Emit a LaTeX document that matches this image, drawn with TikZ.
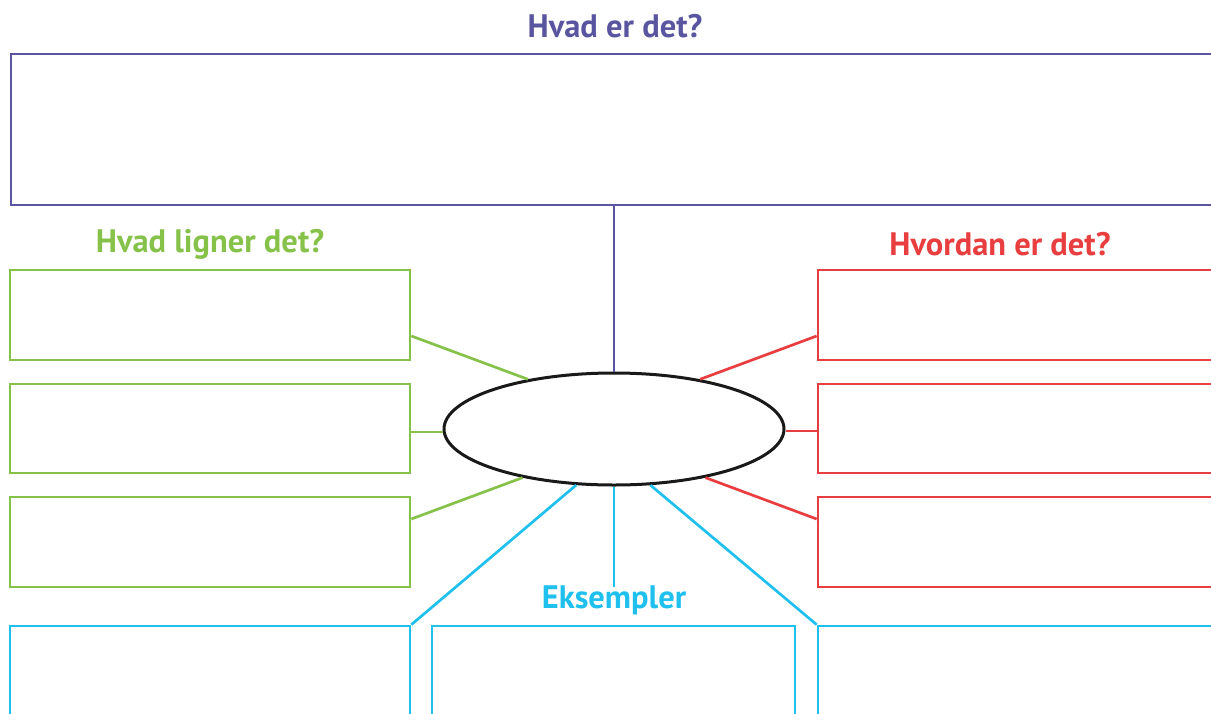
\documentclass[tikz,border=0pt]{standalone}
\usepackage{fontspec}
\usetikzlibrary{shapes.geometric}
\setmainfont{PT Sans}
\definecolor{cpurple}{HTML}{5A559F}
\definecolor{cgreen}{HTML}{86C24A}
\definecolor{cred}{HTML}{E83E3F}
\definecolor{ccyan}{HTML}{1FC0EE}
\begin{document}
\begin{tikzpicture}[x=1pt,y=-1pt,
  lbl/.style={font=\bfseries\fontsize{32.5}{36}\selectfont,inner sep=0pt},
  conn/.style={line width=2.7pt},
  bx/.style={line width=2.7pt,inner sep=0pt}]
\useasboundingbox (0,0) rectangle (1211,713);
\clip (0,0) rectangle (1211,713);
% title
\node[lbl,text=cpurple] (t1) at (615,26) {Hvad er det?};
\draw[cpurple,line width=2.7pt] (1260,54) -- (11,54) -- (11,205) -- (1260,205);
\coordinate (topb) at (614,205);
% ellipse
\node[draw=black!90,line width=3pt,ellipse,minimum width=340,minimum height=112,inner sep=0pt] (ell) at (614,429) {};
\draw[cpurple,conn] (topb) -- (ell.north);
% green
\node[lbl,text=cgreen] (t2) at (210,244) {Hvad ligner det?};
\node[draw=cgreen,bx,minimum width=400,minimum height=90] (g1) at (210,315) {};
\node[draw=cgreen,bx,minimum width=400,minimum height=89] (g2) at (210,428.5) {};
\node[draw=cgreen,bx,minimum width=400,minimum height=90] (g3) at (210,542) {};
\draw[cgreen,conn] (g1.east |- 0,336) -- (ell.150);
\draw[cgreen,conn] (g2.east |- 0,432) -- (ell.west |- 0,432);
\draw[cgreen,conn] (g3.east |- 0,519) -- (ell.208);
% red
\node[lbl,text=cred] (t3) at (1000,244) {Hvordan er det?};
\node[draw=cred,bx,minimum width=500,minimum height=90] (r1) at (1068,315) {};
\node[draw=cred,bx,minimum width=500,minimum height=89] (r2) at (1068,428.5) {};
\node[draw=cred,bx,minimum width=500,minimum height=90] (r3) at (1068,542) {};
\draw[cred,conn] (r1.west |- 0,336) -- (ell.30);
\draw[cred,conn] (r2.west |- 0,431) -- (ell.east |- 0,431);
\draw[cred,conn] (r3.west |- 0,519) -- (ell.332);
% cyan
\node[lbl,text=ccyan] (t4) at (614,600) {Eksempler};
\node[draw=ccyan,bx,minimum width=400,minimum height=200] (c1) at (210,726) {};
\node[draw=ccyan,bx,minimum width=363,minimum height=200] (c2) at (613.5,726) {};
\node[draw=ccyan,bx,minimum width=500,minimum height=200] (c3) at (1068,726) {};
\coordinate (cm) at (614,587);
\draw[ccyan,conn] (c1.north east) -- (ell.236.5);
\draw[ccyan,conn] (ell.south) -- (cm);
\draw[ccyan,conn] (c3.north west) -- (ell.303.5);
\end{tikzpicture}
\end{document}
